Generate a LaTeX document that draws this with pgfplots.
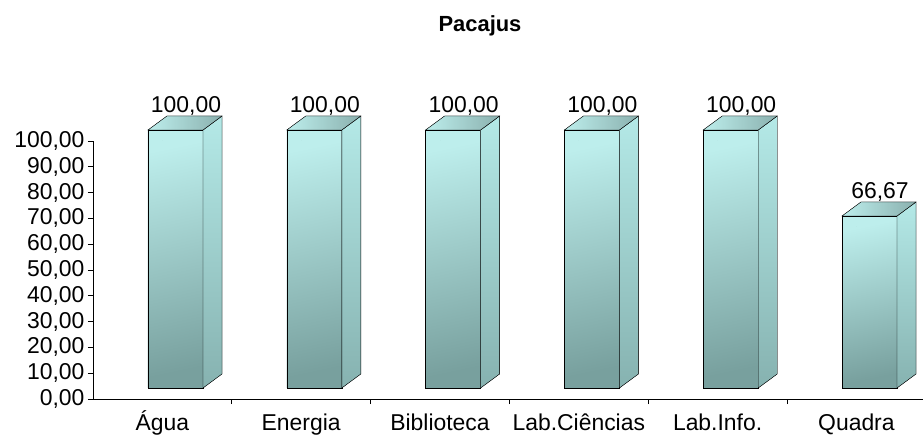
\documentclass[border=0pt]{standalone}
\usepackage{fontspec}
\setmainfont{Liberation Sans}
\usepackage{pgfplots}
\pgfplotsset{compat=1.18}
\definecolor{frontA}{HTML}{BDEEEC}
\definecolor{frontB}{HTML}{78A09E}
\definecolor{frontM}{HTML}{9CCCCA}
\definecolor{sideA}{HTML}{B4E9E7}
\definecolor{sideB}{HTML}{86B2B0}
\definecolor{topA}{HTML}{BDEEEC}
\definecolor{topB}{HTML}{8AB0AE}
\begin{document}
\begin{tikzpicture}
\begin{axis}[
  scale only axis,
  x=138.8bp, y=2.58bp,
  xmin=0, xmax=5.98, ymin=0, ymax=100,
  axis x line*=bottom, axis y line*=left,
  axis line style={-, black, line width=0.8bp},
  clip=false,
  ytick={0,10,...,100},
  xtick={1,2,3,4,5},
  xticklabel={\phantom{0}},
  extra x ticks={0.5,1.5,2.5,3.5,4.5,5.5},
  extra x tick labels={Água,Energia,Biblioteca,Lab.Ciências,Lab.Info.,Quadra},
  extra x tick style={major tick length=0pt, tick style={draw=none}},
  tick align=outside,
  major tick length=5bp,
  tick style={black, line width=0.8bp},
  tick label style={font=\fontsize{23}{27}\selectfont},
  xticklabel style={yshift=-11bp, text height=17bp, text depth=5bp},
  yticklabel style={/pgf/number format/.cd, fixed, fixed zerofill, precision=2, use comma, assume math mode=true},
]
\coordinate (O) at (rel axis cs:0,0);
% front faces of the bars (data bars)
\addplot[ybar, bar width=55bp, bar shift=13.1bp, yshift=11bp, draw=none, fill=frontM]
  coordinates {(0.5,100) (1.5,100) (2.5,100) (3.5,100) (4.5,100) (5.5,66.67)};
% shading of the front faces, side and top faces, value labels
\addplot[scatter, only marks, mark=*, mark size=0pt, mark options={draw=none, fill=none},
  visualization depends on={rawy \as \v},
  scatter/@pre marker code/.code={%
    \pgfmathsetmacro\h{\v*2.58}%
    \pgfmathsetmacro\yb{11-\h}%
    \pgfmathsetmacro\ybb{25-\h}%
    \fill[top color=frontA, bottom color=frontB, shading angle=12] (-14.4bp,\yb bp) rectangle (40.6bp,11bp);
    \fill[top color=sideA, bottom color=sideB] (40.6bp,\yb bp) -- (59.6bp,\ybb bp) -- (59.6bp,25bp) -- (40.6bp,11bp) -- cycle;
    \fill[left color=topA, right color=topB] (-14.4bp,11bp) -- (40.6bp,11bp) -- (59.6bp,25bp) -- (4.6bp,25bp) -- cycle;
    \node[anchor=base, inner sep=0pt, font=\fontsize{23}{27}\selectfont] at (23.6bp,28bp)
      {\pgfmathprintnumber[fixed, fixed zerofill, precision=2, use comma, assume math mode=true]{\v}};
    \begin{scope}},
  scatter/@post marker code/.code={\end{scope}},
]
  coordinates {(0.5,100) (1.5,100) (2.5,100) (3.5,100) (4.5,100) (5.5,66.67)};
\end{axis}
\node[anchor=base, font=\bfseries\fontsize{22}{26}\selectfont] at ([shift={(387bp,367bp)}]O) {Pacajus};
\pgfresetboundingbox
\path ([shift={(-93bp,-37bp)}]O) rectangle ([shift={(830bp,399bp)}]O);
\end{tikzpicture}
\end{document}
